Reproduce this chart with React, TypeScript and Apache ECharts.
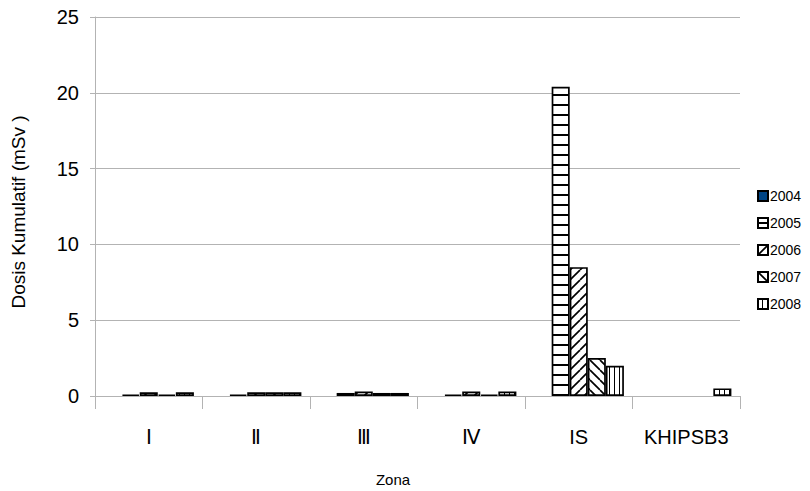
import React, { useEffect, useRef } from "react";
import * as echarts from "echarts";

const categories = ["Ⅰ", "Ⅱ", "Ⅲ", "Ⅳ", "IS", "KHIPSB3"];
const years = ["2004", "2005", "2006", "2007", "2008"];
const s2004: (number | null)[] = [null, null, null, null, null, null];
const s2005: (number | null)[] = [0.1, 0.1, 0.2, 0.1, 20.4, null];
const s2006: (number | null)[] = [0.25, 0.25, 0.3, 0.3, 8.5, null];
const s2007: (number | null)[] = [0.1, 0.25, 0.2, 0.1, 2.5, null];
const s2008: (number | null)[] = [0.25, 0.25, 0.2, 0.3, 2.0, 0.5];
const yTicks = { min: 0, max: 25, interval: 5 };

const FONT = "'Liberation Sans', Arial, sans-serif";

function makePattern(kind: string): any {
  if (kind === "solid") return "#004586";
  const c = document.createElement("canvas");
  let w = 10, h = 10;
  if (kind === "h") { w = 6; h = 9.5; }
  if (kind === "v") { w = 5; h = 6; }
  c.width = w; c.height = Math.round(h);
  h = c.height;
  const ctx = c.getContext("2d")!;
  ctx.fillStyle = "#ffffff";
  ctx.fillRect(0, 0, w, h);
  ctx.fillStyle = "#000000";
  ctx.strokeStyle = "#000000";
  ctx.lineWidth = 1.7;
  if (kind === "h") {
    ctx.fillRect(0, 4, w, 2);
  } else if (kind === "v") {
    ctx.fillRect(4, 0, 1.7, h);
  } else if (kind === "f") {
    for (let k = -1; k <= 1; k++) {
      ctx.beginPath();
      ctx.moveTo(k * w, h);
      ctx.lineTo(k * w + w, 0);
      ctx.stroke();
    }
  } else if (kind === "b") {
    for (let k = -1; k <= 1; k++) {
      ctx.beginPath();
      ctx.moveTo(k * w, 0);
      ctx.lineTo(k * w + w, h);
      ctx.stroke();
    }
  }
  return { image: c, repeat: "repeat" };
}

export default function App() {
  const ref = useRef<HTMLDivElement>(null);
  useEffect(() => {
    if (!ref.current) return;
    const chart = echarts.init(ref.current, null, { renderer: "svg" });
    const kinds = ["solid", "h", "f", "b", "v"];
    const datas = [s2004, s2005, s2006, s2007, s2008];
    const series = years.map((y, i) => ({
      name: y,
      type: "bar",
      data: datas[i],
      barGap: "0%",
      barCategoryGap: "16%",
      itemStyle: {
        color: makePattern(kinds[i]),
        borderColor: "#000000",
        borderWidth: 1.7,
      },
    }));
    chart.setOption({
      animation: false,
      backgroundColor: "#ffffff",
      grid: { left: 95, right: 70, top: 17, bottom: 95, containLabel: false },
      legend: {
        orient: "vertical",
        left: 752,
        top: 184,
        icon: "rect",
        itemWidth: 10,
        itemHeight: 10,
        itemGap: 13,
        textStyle: { fontFamily: FONT, fontSize: 14, color: "#000", padding: [0, 0, 0, -3] },
        data: years,
      },
      xAxis: {
        type: "category",
        data: categories,
        axisLine: { lineStyle: { color: "#b3b3b3", width: 1 } },
        axisTick: { show: true, length: 13, interval: 0, lineStyle: { color: "#b3b3b3" } },
        axisLabel: { fontFamily: FONT, fontSize: 20, color: "#000", margin: 31, interval: 0, hideOverlap: false },
      },
      yAxis: {
        type: "value",
        min: yTicks.min,
        max: yTicks.max,
        interval: yTicks.interval,
        axisLine: { show: true, lineStyle: { color: "#b3b3b3", width: 1 } },
        axisTick: { show: true, length: 5, lineStyle: { color: "#b3b3b3" } },
        axisLabel: { fontFamily: FONT, fontSize: 20, color: "#000", margin: 16 },
        splitLine: { show: true, lineStyle: { color: "#b3b3b3", width: 1 } },
      },
      graphic: [
        {
          type: "text",
          x: 393,
          y: 479,
          style: { text: "Zona", fontFamily: FONT, fontSize: 15, fill: "#000", align: "center", verticalAlign: "middle" },
        },
        {
          type: "text",
          x: 18,
          y: 212,
          rotation: Math.PI / 2,
          style: { text: "Dosis Kumulatif (mSv )", fontFamily: FONT, fontSize: 19, fill: "#000", align: "center", verticalAlign: "middle" },
        },
      ],
      series,
    });
    return () => chart.dispose();
  }, []);
  return <div ref={ref} style={{ width: 810, height: 491, position: "absolute", left: 0, top: 0 }} />;
}
